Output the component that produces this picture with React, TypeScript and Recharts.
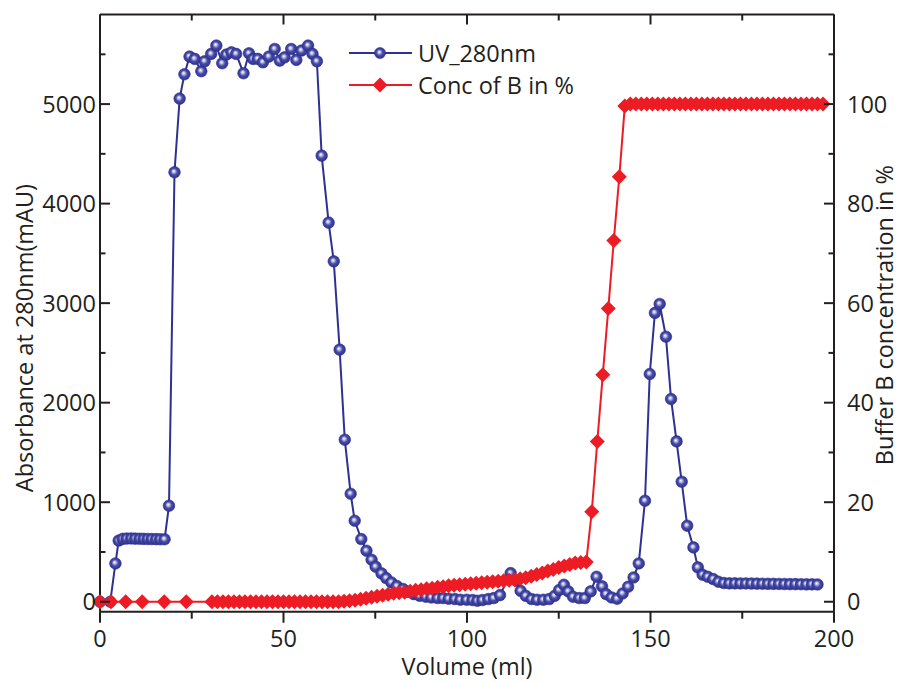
import { LineChart, Line, XAxis, YAxis, Legend } from 'recharts';

const INK = '#231f20';
const UV_BLUE = '#2e3192';
const CONC_RED = '#ed1c24';
const FONT = "'Open Sans', sans-serif";
const FONT_SIZE = 23.5;

// UV trace at 280 nm: [volume (ml), absorbance (mAU)]
const uvPoints: [number, number][] = [
  [0, 0], [2.8, 0], [4.2, 385], [5.1, 615], [6.2, 632], [7.3, 635], [8.5, 636],
  [9.6, 634], [10.8, 633], [11.9, 632], [13.0, 631], [14.1, 630], [15.3, 629],
  [16.4, 628], [17.6, 628], [18.8, 965], [20.3, 4315], [21.7, 5055], [23.0, 5300],
  [24.4, 5477], [25.8, 5454], [27.6, 5330], [28.5, 5430], [30.3, 5504], [31.7, 5588],
  [33.3, 5410], [34.4, 5497], [35.8, 5520], [37.1, 5504], [39.1, 5310], [40.6, 5510],
  [41.7, 5454], [43.0, 5454], [44.4, 5420], [46.0, 5477], [47.6, 5554], [49.0, 5437],
  [50.3, 5470], [52.1, 5554], [53.5, 5444], [54.9, 5538], [56.7, 5588], [57.9, 5504],
  [59.1, 5430], [60.4, 4482], [62.3, 3809], [63.7, 3420], [65.3, 2533], [66.7, 1628],
  [68.3, 1085], [69.4, 814], [71.2, 630], [72.6, 513], [74.0, 422], [75.1, 352],
  [76.7, 285], [78.0, 238], [79.4, 194], [80.9, 158], [82.6, 128], [83.9, 100],
  [85.5, 77], [87.1, 60], [88.8, 50], [90.3, 43], [92.0, 37], [93.5, 37], [95.0, 30],
  [96.7, 27], [98.2, 20], [99.9, 20], [101.5, 17], [102.8, 10], [104.2, 17],
  [105.8, 27], [107.3, 37], [109.0, 67], [111.9, 288], [113.5, 211], [114.6, 110],
  [116.0, 60], [117.6, 27], [119.1, 20], [120.8, 20], [122.4, 27], [123.9, 60],
  [125.1, 117], [126.4, 171], [127.6, 104], [128.9, 50], [130.6, 37], [132.1, 37],
  [133.7, 104], [135.3, 251], [136.8, 155], [137.9, 77], [139.4, 43], [140.9, 30],
  [142.4, 83], [143.9, 151], [145.4, 244], [146.8, 385], [148.5, 1015], [149.8, 2288],
  [151.2, 2902], [152.5, 2992], [154.2, 2663], [155.6, 2037], [157.1, 1611],
  [158.5, 1206], [160.0, 764], [161.7, 546], [162.9, 345], [164.2, 271], [165.6, 251],
  [167.1, 228], [168.5, 201], [170.0, 188], [171.5, 185], [173.0, 185], [174.5, 184],
  [176.0, 184], [177.5, 183], [179.0, 182], [180.5, 181], [182.0, 180], [183.5, 180],
  [185.0, 179], [186.5, 178], [188.0, 177], [189.5, 177], [191.0, 176], [192.5, 175],
  [194.0, 175], [195.5, 174],
];

// Buffer B gradient: [volume (ml), concentration (%)]
const concPoints: [number, number][] = [
  [0, 0], [3, 0], [7, 0], [11.5, 0], [17.5, 0], [23.5, 0],
  [30.5, 0], [32, 0], [33.5, 0], [35, 0], [36.5, 0], [38, 0], [39.5, 0], [41, 0],
  [42.5, 0], [44, 0], [45.5, 0], [47, 0], [48.5, 0], [50, 0], [51.5, 0], [53, 0],
  [54.5, 0], [56, 0], [57.5, 0], [59, 0], [60.5, 0], [62, 0], [63.5, 0], [65, 0],
  [66.5, 0.1], [68, 0.2], [69.5, 0.3], [71, 0.5], [72.5, 0.7], [74, 0.9], [75.5, 1.1],
  [77, 1.3], [78.5, 1.5], [80, 1.7], [81.5, 1.8], [83, 1.9], [84.5, 2.1], [86, 2.3],
  [87.5, 2.4], [89, 2.6], [90.5, 2.7], [92, 2.9], [93.5, 3.0], [95, 3.2], [96.5, 3.3],
  [98, 3.4], [99.5, 3.5], [101, 3.6], [102.5, 3.7], [104, 3.8], [105.5, 3.9], [107, 4.0],
  [108.5, 4.1], [110, 4.2], [111.5, 4.3], [113, 4.4], [114.5, 4.6], [116, 4.8],
  [117.5, 5.1], [119, 5.5], [120.5, 5.8], [122, 6.2], [123.5, 6.5], [125, 6.9],
  [126.5, 7.2], [128, 7.5], [129.5, 7.8], [131, 7.9], [132.5, 8.0],
  [134, 18.1], [135.5, 32.2], [137, 45.6], [138.5, 58.9], [140, 72.6], [141.5, 85.4],
  [143, 99.6], [144.5, 100], [146, 100], [147.5, 100], [149, 100], [150.5, 100],
  [152, 100], [153.5, 100], [155, 100], [156.5, 100], [158, 100], [159.5, 100],
  [161, 100], [162.5, 100], [164, 100], [165.5, 100], [167, 100], [168.5, 100],
  [170, 100], [171.5, 100], [173, 100], [174.5, 100], [176, 100], [177.5, 100],
  [179, 100], [180.5, 100], [182, 100], [183.5, 100], [185, 100], [186.5, 100],
  [188, 100], [189.5, 100], [191, 100], [192.5, 100], [194, 100], [195.5, 100],
  [197, 100],
];

const volumeTicks = [0, 25, 50, 75, 100, 125, 150, 175, 200];
const absorbanceTicks = [0, 500, 1000, 1500, 2000, 2500, 3000, 3500, 4000, 4500, 5000, 5500];
const concTicks = [0, 10, 20, 30, 40, 50, 60, 70, 80, 90, 100, 110];

const uvData = uvPoints.map(([ml, mAU]) => ({ ml, mAU }));
const concData = concPoints.map(([ml, pct]) => ({ ml, pct }));

const textStyle = { fontFamily: FONT, fontSize: FONT_SIZE, fill: INK };

// ticks point into the plot on left/right/top, outward on the bottom
const LeftTick = ({ x, y, payload }: any) => {
  const major = payload.value % 1000 === 0;
  return (
    <g>
      <line x1={x} x2={x + (major ? 10 : 5.5)} y1={y} y2={y} stroke={INK} strokeWidth={2} />
      {major && (
        <text x={x - 4} y={y} dy="0.36em" textAnchor="end" style={textStyle}>
          {payload.value}
        </text>
      )}
    </g>
  );
};

const RightTick = ({ x, y, payload }: any) => {
  const major = payload.value % 20 === 0 && payload.value <= 100;
  return (
    <g>
      <line x1={x} x2={x - (major ? 10 : 5.5)} y1={y} y2={y} stroke={INK} strokeWidth={2} />
      {major && (
        <text x={x + 13} y={y} dy="0.36em" textAnchor="start" style={textStyle}>
          {payload.value}
        </text>
      )}
    </g>
  );
};

const BottomTick = ({ x, y, payload }: any) => {
  const major = payload.value % 50 === 0;
  return (
    <g>
      <line x1={x} x2={x} y1={y} y2={y + (major ? 11 : 7)} stroke={INK} strokeWidth={2} />
      {major && (
        <text x={x} y={y + 19} dy="0.71em" textAnchor="middle" style={textStyle}>
          {payload.value}
        </text>
      )}
    </g>
  );
};

const TopTick = ({ x, y, payload }: any) => {
  const major = payload.value % 50 === 0;
  return <line x1={x} x2={x} y1={y} y2={y + (major ? 10 : 6)} stroke={INK} strokeWidth={2} />;
};

const sideTitle = (text: string, dx: number, dy: number) => (props: any) => {
  const vb = props.viewBox;
  const bx = vb.x + dx;
  const cy = vb.y + vb.height / 2 + dy;
  return (
    <text x={bx} y={cy} transform={`rotate(-90 ${bx} ${cy})`} textAnchor="middle" style={textStyle}>
      {text}
    </text>
  );
};

const bottomTitle = (props: any) => {
  const vb = props.viewBox;
  return (
    <text x={vb.x + vb.width / 2} y={vb.y + 63} textAnchor="middle" style={textStyle}>
      Volume (ml)
    </text>
  );
};

const Ball = ({ cx, cy, r = 5.8 }: { cx: number; cy: number; r?: number }) => (
  <circle cx={cx} cy={cy} r={r} fill="url(#uvBall)" stroke={UV_BLUE} strokeWidth={0.6} />
);

const Diamond = ({ cx, cy, h = 7.5 }: { cx: number; cy: number; h?: number }) => (
  <polygon
    points={`${cx - h},${cy} ${cx},${cy - h} ${cx + h},${cy} ${cx},${cy + h}`}
    fill={CONC_RED}
  />
);

const renderBall = (p: any) => {
  if (p.cx == null || p.cy == null) return <g key={`uv-${p.index}`} />;
  return <Ball key={`uv-${p.index}`} cx={p.cx} cy={p.cy} />;
};

const renderDiamond = (p: any) => {
  if (p.cx == null || p.cy == null) return <g key={`cb-${p.index}`} />;
  return <Diamond key={`cb-${p.index}`} cx={p.cx} cy={p.cy} />;
};

const legendRows = [
  { name: 'UV_280nm', color: UV_BLUE, mark: 'ball' },
  { name: 'Conc of B in %', color: CONC_RED, mark: 'diamond' },
];

const ChartLegend = () => (
  <div style={{ fontFamily: FONT, fontSize: FONT_SIZE, color: INK }}>
    {legendRows.map((row) => (
      <div key={row.name} style={{ display: 'flex', alignItems: 'center', height: 32 }}>
        <svg width={69} height={32} style={{ display: 'block' }}>
          <line x1={0} x2={63} y1={16} y2={16} stroke={row.color} strokeWidth={2} />
          {row.mark === 'ball' ? <Ball cx={31} cy={16} r={5.5} /> : <Diamond cx={31} cy={16} h={7.5} />}
        </svg>
        <span style={{ whiteSpace: 'nowrap' }}>{row.name}</span>
      </div>
    ))}
  </div>
);

export default function App() {
  return (
    <div style={{ position: 'absolute', left: 0, top: 0, width: 901, height: 682, background: '#fff' }}>
      <LineChart width={901} height={682} margin={{ top: 0, right: 0, bottom: 0, left: 0 }}>
        <defs>
          <radialGradient id="uvBall" cx="0.5" cy="0.5" r="0.55" fx="0.42" fy="0.4">
            <stop offset="0%" stopColor="#ffffff" />
            <stop offset="22%" stopColor="#b9bce6" />
            <stop offset="50%" stopColor="#4a4ea8" />
            <stop offset="100%" stopColor="#262a86" />
          </radialGradient>
        </defs>
        <XAxis
          xAxisId="bottom"
          dataKey="ml"
          type="number"
          domain={[0, 200]}
          ticks={volumeTicks}
          interval={0}
          height={70.3}
          tickSize={0}
          tickMargin={0}
          tickLine={false}
          axisLine={{ stroke: INK, strokeWidth: 2 }}
          tick={<BottomTick />}
          label={bottomTitle}
        />
        <XAxis
          xAxisId="top"
          orientation="top"
          dataKey="ml"
          type="number"
          domain={[0, 200]}
          ticks={volumeTicks}
          interval={0}
          height={14.5}
          tickSize={0}
          tickMargin={0}
          tickLine={false}
          axisLine={{ stroke: INK, strokeWidth: 2 }}
          tick={<TopTick />}
        />
        <YAxis
          yAxisId="left"
          type="number"
          domain={[-100, 5900]}
          ticks={absorbanceTicks}
          interval={0}
          width={100}
          tickSize={0}
          tickMargin={0}
          tickLine={false}
          axisLine={{ stroke: INK, strokeWidth: 2 }}
          tick={<LeftTick />}
          label={sideTitle('Absorbance at 280nm(mAU)', 33, 25)}
        />
        <YAxis
          yAxisId="right"
          orientation="right"
          type="number"
          domain={[-2, 118]}
          ticks={concTicks}
          interval={0}
          width={67}
          tickSize={0}
          tickMargin={0}
          tickLine={false}
          axisLine={{ stroke: INK, strokeWidth: 2 }}
          tick={<RightTick />}
          label={sideTitle('Buffer B concentration in %', 59, 2)}
        />
        <Legend
          layout="vertical"
          align="center"
          verticalAlign="middle"
          wrapperStyle={{ left: 349, top: 36.7, width: 260 }}
          content={<ChartLegend />}
        />
        <Line
          data={uvData}
          xAxisId="bottom"
          yAxisId="left"
          dataKey="mAU"
          name="UV_280nm"
          type="linear"
          stroke={UV_BLUE}
          strokeWidth={2}
          dot={renderBall}
          activeDot={false}
          isAnimationActive={false}
        />
        <Line
          data={concData}
          xAxisId="top"
          yAxisId="right"
          dataKey="pct"
          name="Conc of B in %"
          type="linear"
          stroke={CONC_RED}
          strokeWidth={2}
          dot={renderDiamond}
          activeDot={false}
          isAnimationActive={false}
        />
      </LineChart>
    </div>
  );
}
